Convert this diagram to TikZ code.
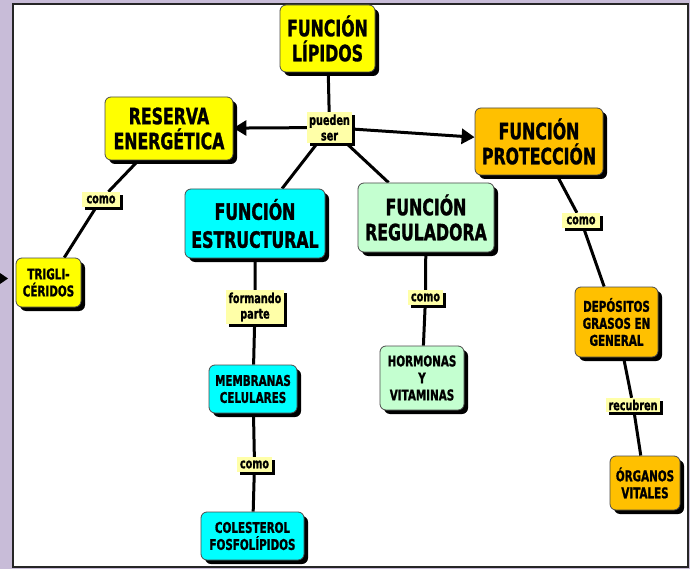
\documentclass[tikz,border=0pt]{standalone}
\usepackage{fontspec}
\setmainfont{DejaVu Sans}[FakeStretch=0.7, BoldFeatures={FakeBold=1.2}]
\usetikzlibrary{positioning}
\usetikzlibrary{arrows.meta,shadows}

\definecolor{lavanda}{HTML}{C8BCD8}
\definecolor{amarillo}{HTML}{FFFF00}
\definecolor{naranja}{HTML}{FFC000}
\definecolor{cian}{HTML}{00FFFF}
\definecolor{verdeClaro}{HTML}{C4FFD0}
\definecolor{etiqueta}{HTML}{FFFFA8}

\pgfdeclarelayer{panel}
\pgfdeclarelayer{lines}
\pgfsetlayers{panel,lines,main}

\begin{document}
\begin{tikzpicture}[x=1pt,y=-1pt]
\tikzset{concept/.style={rectangle, rounded corners=6pt, draw=black!70, line width=0.8pt, align=center, text=black, inner sep=0pt,
    drop shadow={shadow xshift=4pt, shadow yshift=-4pt, fill=black, opacity=1}},
  bigText/.style={font=\fontsize{22.5}{25}\selectfont\bfseries},
  smallText/.style={font=\fontsize{14.8}{17}\selectfont\bfseries},
  linkLabel/.style={rectangle, fill=etiqueta, inner sep=0pt, align=center, text=black, font=\fontsize{13.8}{15.5}\selectfont\bfseries,
    drop shadow={shadow xshift=3pt, shadow yshift=-3pt, fill=black, opacity=1}},
  link/.style={line width=3pt, black},
  flecha/.style={link, -{Triangle[length=13pt,width=15pt]}}}

\useasboundingbox (0,0) rectangle (690,569);

% fondo y marco
\begin{pgfonlayer}{panel}
\fill[lavanda] (0,0) rectangle (690,569);
\draw[fill=white, line width=2pt, draw=black!85] (13,4) rectangle (688,567);
\fill[black] (0,273) -- (8,278.5) -- (0,284) -- cycle;
\end{pgfonlayer}

% conceptos
\node[concept, bigText, fill=amarillo, minimum width=95, minimum height=67] (funcLip) at (327.5,38.5) {FUNCIÓN\\LÍPIDOS};
\node[concept, bigText, fill=amarillo, minimum width=128, minimum height=63] (resEner) at (169,128.5) {RESERVA\\ENERGÉTICA};
\node[concept, bigText, fill=naranja, minimum width=128, minimum height=67] (funcProt) at (539,141.5) {FUNCIÓN\\PROTECCIÓN};
\node[concept, bigText, fill=cian, minimum width=140, minimum height=69, font=\fontsize{22.5}{28}\selectfont\bfseries] (funcEstr) at (255,223.5) {FUNCIÓN\\ESTRUCTURAL};
\node[concept, bigText, fill=verdeClaro, minimum width=136, minimum height=69] (funcReg) at (426,217.5) {FUNCIÓN\\REGULADORA};

\node[concept, smallText, fill=amarillo, minimum width=65, minimum height=49] (trigli) at (48.5,282.5) {TRIGLI-\\CÉRIDOS};
\node[concept, smallText, fill=cian, minimum width=88, minimum height=48] (membCel) at (253,389) {MEMBRANAS\\CELULARES};
\node[concept, smallText, fill=cian, minimum width=103, minimum height=48] (colFos) at (252.5,536) {COLESTEROL\\FOSFOLÍPIDOS};
\node[concept, smallText, fill=verdeClaro, minimum width=84, minimum height=64] (hormVit) at (422,378) {HORMONAS\\Y\\VITAMINAS};
\node[concept, smallText, fill=naranja, minimum width=83, minimum height=70] (depGras) at (616.5,322) {DEPÓSITOS\\GRASOS EN\\GENERAL};
\node[concept, smallText, fill=naranja, minimum width=70, minimum height=54] (orgVit) at (645,483) {ÓRGANOS\\VITALES};

% palabras de enlace
\node[linkLabel, minimum width=45, minimum height=31] (lblPueden) at (329.5,127.5) {pueden\\ser};
\node[linkLabel, minimum width=38, minimum height=15] (lblComoRes) at (101,199.5) {como};
\node[linkLabel, minimum width=58, minimum height=34] (lblFormando) at (255,307) {formando\\parte};
\node[linkLabel, minimum width=35, minimum height=15] (lblComoMemb) at (254.5,464.5) {como};
\node[linkLabel, minimum width=35, minimum height=15] (lblComoReg) at (425.5,297.5) {como};
\node[linkLabel, minimum width=38, minimum height=15] (lblComoProt) at (581,220.5) {como};
\node[linkLabel, minimum width=54, minimum height=14] (lblRecubren) at (633,405) {recubren};

\begin{pgfonlayer}{lines}
\path[link] (funcLip) edge (lblPueden);
\path[flecha] (lblPueden) edge (resEner);
\path[flecha] (lblPueden) edge (funcProt);
\path[link] (lblPueden) edge (funcEstr);
\path[link] (lblPueden) edge (funcReg);

\draw[link] (resEner) -- (lblComoRes) -- (trigli);
\draw[link] (funcEstr) -- (lblFormando) -- (membCel);
\draw[link] (membCel) -- (lblComoMemb) -- (colFos);
\draw[link] (funcReg) -- (lblComoReg) -- (hormVit);
\draw[link] (funcProt) -- (lblComoProt) -- (depGras);
\draw[link] (depGras) -- (lblRecubren) -- (orgVit);
\end{pgfonlayer}
\end{tikzpicture}
\end{document}
